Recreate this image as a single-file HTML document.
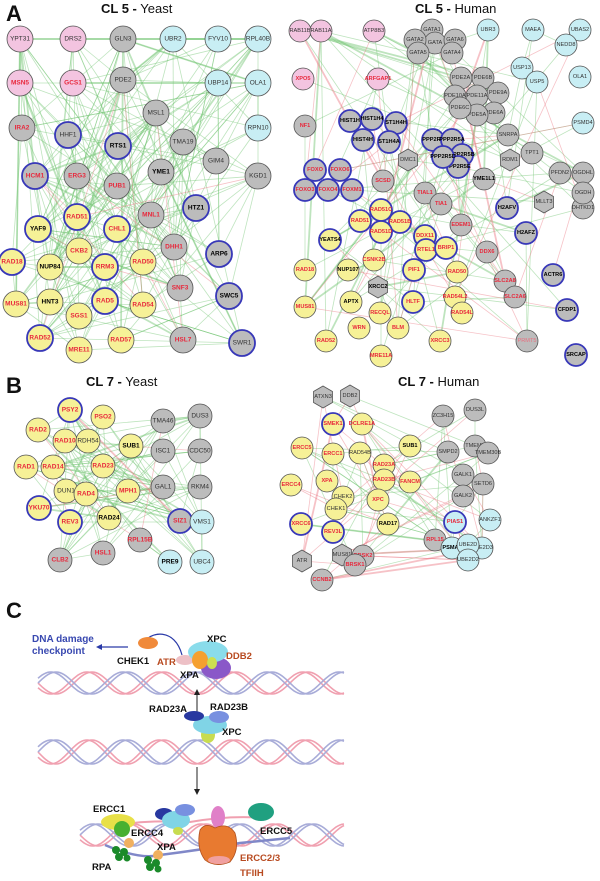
<!DOCTYPE html>
<html><head><meta charset="utf-8">
<style>
html,body{margin:0;padding:0;background:#fff;width:600px;height:881px;overflow:hidden}
svg{display:block;font-family:"Liberation Sans",sans-serif}
.n text{font-size:6.5px;text-anchor:middle;dominant-baseline:central;fill:#333}
.s text{font-size:5.6px}
.n circle,.n polygon{stroke:#555;stroke-width:0.8}
.p circle{fill:#f3c4e0}.g circle,.g polygon{fill:#bcbcbc}.c circle{fill:#c8eef4}.y circle{fill:#f6f197}
.b circle{stroke:#3838b8;stroke-width:1.8}
.r text{fill:#e8283c;font-weight:bold}
.k text{fill:#000;font-weight:bold}
.h1{font-size:13px;fill:#111}
.L{font-size:22px;font-weight:bold;fill:#111}
.lb{font-size:9.5px;font-weight:bold;fill:#111}
.lo{font-size:9.5px;font-weight:bold;fill:#b84a20}
</style></head><body>
<svg id="S" width="600" height="881" viewBox="0 0 600 881">
<text class="L" x="6" y="21">A</text>
<text class="h1" x="101" y="13"><tspan font-weight="bold">CL 5 -</tspan> Yeast</text>
<text class="h1" x="415" y="13"><tspan font-weight="bold">CL 5 -</tspan> Human</text>
<g id="P1" data-r="13">
<g class="n p" transform="translate(20,39)"><text>YPT31</text></g>
<g class="n p" transform="translate(73,39)"><text>DRS2</text></g>
<g class="n g" transform="translate(123,39)"><text>GLN3</text></g>
<g class="n c" transform="translate(173,39)"><text>UBR2</text></g>
<g class="n c" transform="translate(218,39)"><text>FYV10</text></g>
<g class="n c" transform="translate(258,39)"><text>RPL40B</text></g>
<g class="n p r" transform="translate(20,83)"><text>MSN5</text></g>
<g class="n p r" transform="translate(73,83)"><text>GCS1</text></g>
<g class="n g" transform="translate(123,80)"><text>PDE2</text></g>
<g class="n c" transform="translate(218,83)"><text>UBP14</text></g>
<g class="n c" transform="translate(258,83)"><text>OLA1</text></g>
<g class="n g" transform="translate(156,113)"><text>MSL1</text></g>
<g class="n g r" transform="translate(22,128)"><text>IRA2</text></g>
<g class="n g b" transform="translate(68,135)"><text>HHF1</text></g>
<g class="n g b k" transform="translate(118,146)"><text>RTS1</text></g>
<g class="n g" transform="translate(183,142)"><text>TMA19</text></g>
<g class="n c" transform="translate(258,128)"><text>RPN10</text></g>
<g class="n g" transform="translate(216,161)"><text>GIM4</text></g>
<g class="n g" transform="translate(258,176)"><text>KGD1</text></g>
<g class="n g b r" transform="translate(35,176)"><text>HCM1</text></g>
<g class="n g r" transform="translate(77,176)"><text>ERG3</text></g>
<g class="n g r" transform="translate(117,186)"><text>PUB1</text></g>
<g class="n g k" transform="translate(161,172)"><text>YME1</text></g>
<g class="n g r" transform="translate(151,215)"><text>MNL1</text></g>
<g class="n g b k" transform="translate(196,208)"><text>HTZ1</text></g>
<g class="n y b r" transform="translate(77,217)"><text>RAD51</text></g>
<g class="n y b k" transform="translate(38,229)"><text>YAF9</text></g>
<g class="n y b r" transform="translate(117,229)"><text>CHL1</text></g>
<g class="n y r" transform="translate(79,251)"><text>CKB2</text></g>
<g class="n g r" transform="translate(174,247)"><text>DHH1</text></g>
<g class="n g b k" transform="translate(219,254)"><text>ARP6</text></g>
<g class="n y b r" transform="translate(12,262)"><text>RAD18</text></g>
<g class="n y k" transform="translate(50,267)"><text>NUP84</text></g>
<g class="n y b r" transform="translate(105,267)"><text>RRM3</text></g>
<g class="n y r" transform="translate(143,262)"><text>RAD50</text></g>
<g class="n g r" transform="translate(180,288)"><text>SNF3</text></g>
<g class="n g b k" transform="translate(229,296)"><text>SWC5</text></g>
<g class="n y r" transform="translate(16,304)"><text>MUS81</text></g>
<g class="n y k" transform="translate(50,302)"><text>HNT3</text></g>
<g class="n y b r" transform="translate(105,301)"><text>RAD5</text></g>
<g class="n y r" transform="translate(143,305)"><text>RAD54</text></g>
<g class="n y r" transform="translate(79,316)"><text>SGS1</text></g>
<g class="n y b r" transform="translate(40,338)"><text>RAD52</text></g>
<g class="n y r" transform="translate(79,350)"><text>MRE11</text></g>
<g class="n y r" transform="translate(121,340)"><text>RAD57</text></g>
<g class="n g r" transform="translate(183,340)"><text>HSL7</text></g>
<g class="n g b" transform="translate(242,343)"><text>SWR1</text></g>
</g>
<g id="P2" data-r="11">
<g class="n p s" transform="translate(300,31)"><text>RAB11B</text></g>
<g class="n p s" transform="translate(321,31)"><text>RAB11A</text></g>
<g class="n p s" transform="translate(374,31)"><text>ATP8B3</text></g>
<g class="n g s" transform="translate(432,30)"><text>GATA1</text></g>
<g class="n g s" transform="translate(435,43)"><text>GATA</text></g>
<g class="n g s" transform="translate(415,40)"><text>GATA2</text></g>
<g class="n g s" transform="translate(455,40)"><text>GATA6</text></g>
<g class="n g s" transform="translate(418,53)"><text>GATA5</text></g>
<g class="n g s" transform="translate(452,53)"><text>GATA4</text></g>
<g class="n c s" transform="translate(488,30)"><text>UBR3</text></g>
<g class="n c s" transform="translate(533,30)"><text>MAEA</text></g>
<g class="n c s" transform="translate(580,30)"><text>UBAS2</text></g>
<g class="n c s" transform="translate(566,45)"><text>NEDD8</text></g>
<g class="n p s r" transform="translate(303,79)"><text>XPO5</text></g>
<g class="n p s r" transform="translate(378,79)"><text>ARFGAP1</text></g>
<g class="n c s" transform="translate(522,68)"><text>USP13</text></g>
<g class="n c s" transform="translate(537,82)"><text>USP5</text></g>
<g class="n c s" transform="translate(580,77)"><text>OLA1</text></g>
<g class="n g s" transform="translate(461,78)"><text>PDE2A</text></g>
<g class="n g s" transform="translate(483,78)"><text>PDE6B</text></g>
<g class="n g s" transform="translate(498,93)"><text>PDE9A</text></g>
<g class="n g s" transform="translate(455,96)"><text>PDE10A</text></g>
<g class="n g s" transform="translate(477,96)"><text>PDE11A</text></g>
<g class="n g s" transform="translate(494,113)"><text>PDE6A</text></g>
<g class="n g s" transform="translate(477,115)"><text>PDE5A</text></g>
<g class="n g s" transform="translate(460,108)"><text>PDE6C</text></g>
<g class="n g s r" transform="translate(305,126)"><text>NF1</text></g>
<g class="n g s b k" transform="translate(350,121)"><text>HIST1H</text></g>
<g class="n g s b k" transform="translate(372,119)"><text>HIST1H4</text></g>
<g class="n g s b k" transform="translate(396,123)"><text>ST1H4H</text></g>
<g class="n g s b k" transform="translate(363,140)"><text>HIST4H</text></g>
<g class="n g s b k" transform="translate(389,142)"><text>ST1H4A</text></g>
<g class="n c s" transform="translate(583,123)"><text>PSMD4</text></g>
<g class="n g s" transform="translate(508,135)"><text>SNRPA</text></g>
<g class="n g s" transform="translate(532,153)"><text>TPT1</text></g>
<g class="n g s h" transform="translate(408,160)"><text>DMC1</text></g>
<g class="n g s h" transform="translate(510,160)"><text>RDM1</text></g>
<g class="n g s b k" transform="translate(433,140)"><text>PPP2R5</text></g>
<g class="n g s b k" transform="translate(452,140)"><text>PPP2R5A</text></g>
<g class="n g s b k" transform="translate(462,155)"><text>PPP2R5B</text></g>
<g class="n g s b k" transform="translate(458,167)"><text>PPP2R5E</text></g>
<g class="n g s b k" transform="translate(443,157)"><text>PPP2R5D</text></g>
<g class="n g s b r" transform="translate(315,170)"><text>FOXO</text></g>
<g class="n g s b r" transform="translate(340,170)"><text>FOXO6</text></g>
<g class="n g s b r" transform="translate(305,190)"><text>FOXO3</text></g>
<g class="n g s b r" transform="translate(328,190)"><text>FOXO4</text></g>
<g class="n g s b r" transform="translate(352,190)"><text>FOXM1</text></g>
<g class="n g s r" transform="translate(383,181)"><text>SCSD</text></g>
<g class="n g s k" transform="translate(484,179)"><text>YME1L1</text></g>
<g class="n g s" transform="translate(560,173)"><text>PFDN2</text></g>
<g class="n g s" transform="translate(583,173)"><text>OGDHL</text></g>
<g class="n g s" transform="translate(583,208)"><text>DHTKD1</text></g>
<g class="n g s" transform="translate(583,193)"><text>OGDH</text></g>
<g class="n g s h" transform="translate(544,202)"><text>MLLT3</text></g>
<g class="n g s r" transform="translate(425,193)"><text>TIAL1</text></g>
<g class="n g s r" transform="translate(441,204)"><text>TIA1</text></g>
<g class="n g s b k" transform="translate(507,208)"><text>H2AFV</text></g>
<g class="n y s b r" transform="translate(360,221)"><text>RAD51</text></g>
<g class="n y s b r" transform="translate(381,210)"><text>RAD51C</text></g>
<g class="n y s b r" transform="translate(400,222)"><text>RAD51B</text></g>
<g class="n y s b r" transform="translate(381,232)"><text>RAD51D</text></g>
<g class="n g s r" transform="translate(461,225)"><text>EDEM1</text></g>
<g class="n g s b k" transform="translate(526,233)"><text>H2AFZ</text></g>
<g class="n y s b k" transform="translate(330,240)"><text>YEATS4</text></g>
<g class="n y s b r" transform="translate(425,236)"><text>DDX11</text></g>
<g class="n y s b r" transform="translate(426,250)"><text>RTEL1</text></g>
<g class="n y s b r" transform="translate(446,248)"><text>BRIP1</text></g>
<g class="n y s r" transform="translate(374,260)"><text>CSNK2B</text></g>
<g class="n g s r" transform="translate(487,252)"><text>DDX6</text></g>
<g class="n y s r" transform="translate(305,270)"><text>RAD18</text></g>
<g class="n y s k" transform="translate(348,270)"><text>NUP107</text></g>
<g class="n y s b r" transform="translate(414,270)"><text>PIF1</text></g>
<g class="n y s r" transform="translate(457,272)"><text>RAD50</text></g>
<g class="n g s b k" transform="translate(553,275)"><text>ACTR6</text></g>
<g class="n g s h k" transform="translate(378,287)"><text>XRCC2</text></g>
<g class="n g s r" transform="translate(505,281)"><text>SLC2A8</text></g>
<g class="n g s r" transform="translate(515,297)"><text>SLC2A6</text></g>
<g class="n y s r" transform="translate(305,307)"><text>MUS81</text></g>
<g class="n y s k" transform="translate(351,302)"><text>APTX</text></g>
<g class="n y s b r" transform="translate(413,302)"><text>HLTF</text></g>
<g class="n y s r" transform="translate(455,297)"><text>RAD54L2</text></g>
<g class="n y s r" transform="translate(462,313)"><text>RAD54L</text></g>
<g class="n g s b k" transform="translate(567,310)"><text>CFDP1</text></g>
<g class="n y s r" transform="translate(380,313)"><text>RECQL</text></g>
<g class="n y s r" transform="translate(359,328)"><text>WRN</text></g>
<g class="n y s r" transform="translate(398,328)"><text>BLM</text></g>
<g class="n y s r" transform="translate(326,341)"><text>RAD52</text></g>
<g class="n y s r" transform="translate(440,341)"><text>XRCC3</text></g>
<g class="n g s" transform="translate(527,341)"><text style="fill:#e87080">PRMT5</text></g>
<g class="n y s r" transform="translate(381,356)"><text>MRE11A</text></g>
<g class="n g s b k" transform="translate(576,355)"><text>SRCAP</text></g>
</g>
<text class="L" x="6" y="393">B</text>
<text class="h1" x="86" y="386"><tspan font-weight="bold">CL 7 -</tspan> Yeast</text>
<text class="h1" x="398" y="386"><tspan font-weight="bold">CL 7 -</tspan> Human</text>
<g id="P3" data-r="12">
<g class="n y b r" transform="translate(70,410)"><text>PSY2</text></g>
<g class="n y r" transform="translate(103,417)"><text>PSO2</text></g>
<g class="n g" transform="translate(163,421)"><text>TMA46</text></g>
<g class="n g" transform="translate(200,416)"><text>DUS3</text></g>
<g class="n y r" transform="translate(38,430)"><text>RAD2</text></g>
<g class="n y r" transform="translate(65,441)"><text>RAD10</text></g>
<g class="n y" transform="translate(88,441)"><text>RDH54</text></g>
<g class="n y k" transform="translate(131,446)"><text>SUB1</text></g>
<g class="n g" transform="translate(163,451)"><text>ISC1</text></g>
<g class="n g" transform="translate(200,451)"><text>CDC50</text></g>
<g class="n y r" transform="translate(26,467)"><text>RAD1</text></g>
<g class="n y r" transform="translate(53,467)"><text>RAD14</text></g>
<g class="n y r" transform="translate(103,466)"><text>RAD23</text></g>
<g class="n y" transform="translate(66,491)"><text>DUN1</text></g>
<g class="n y r" transform="translate(86,494)"><text>RAD4</text></g>
<g class="n y r" transform="translate(128,491)"><text>MPH1</text></g>
<g class="n g" transform="translate(163,487)"><text>GAL1</text></g>
<g class="n g" transform="translate(200,487)"><text>RKM4</text></g>
<g class="n y b r" transform="translate(39,508)"><text>YKU70</text></g>
<g class="n y b r" transform="translate(70,522)"><text>REV3</text></g>
<g class="n y k" transform="translate(109,518)"><text>RAD24</text></g>
<g class="n g b r" transform="translate(180,521)"><text>SIZ1</text></g>
<g class="n c" transform="translate(202,522)"><text>VMS1</text></g>
<g class="n g r" transform="translate(140,540)"><text>RPL15B</text></g>
<g class="n g r" transform="translate(103,553)"><text>HSL1</text></g>
<g class="n g r" transform="translate(60,560)"><text>CLB2</text></g>
<g class="n c k" transform="translate(170,562)"><text>PRE9</text></g>
<g class="n c" transform="translate(202,562)"><text>UBC4</text></g>
</g>
<g id="P4" data-r="11">
<g class="n g s h" transform="translate(323,397)"><text>ATXN3</text></g>
<g class="n g s h" transform="translate(350,396)"><text>DDB2</text></g>
<g class="n g s" transform="translate(443,416)"><text>ZC3H15</text></g>
<g class="n g s" transform="translate(475,410)"><text>DUS3L</text></g>
<g class="n y s b r" transform="translate(333,424)"><text>SMEK1</text></g>
<g class="n y s r" transform="translate(362,424)"><text>DCLRE1A</text></g>
<g class="n y s r" transform="translate(302,448)"><text>ERCC5</text></g>
<g class="n y s r" transform="translate(333,454)"><text>ERCC1</text></g>
<g class="n y s" transform="translate(360,453)"><text>RAD54B</text></g>
<g class="n y s k" transform="translate(410,446)"><text>SUB1</text></g>
<g class="n g s" transform="translate(448,452)"><text>SMPD2</text></g>
<g class="n g s" transform="translate(475,446)"><text>TMEM7</text></g>
<g class="n g s" transform="translate(488,453)"><text>TMEM30B</text></g>
<g class="n y s r" transform="translate(384,465)"><text>RAD23A</text></g>
<g class="n g s" transform="translate(463,475)"><text>GALK1</text></g>
<g class="n y s r" transform="translate(291,485)"><text>ERCC4</text></g>
<g class="n y s r" transform="translate(327,481)"><text>XPA</text></g>
<g class="n y s r" transform="translate(384,480)"><text>RAD23B</text></g>
<g class="n y s r" transform="translate(410,482)"><text>FANCM</text></g>
<g class="n g s" transform="translate(483,484)"><text>SETD6</text></g>
<g class="n g s" transform="translate(463,496)"><text>GALK2</text></g>
<g class="n y s" transform="translate(343,497)"><text>CHEK2</text></g>
<g class="n y s r" transform="translate(378,500)"><text>XPC</text></g>
<g class="n y s" transform="translate(336,509)"><text>CHEK1</text></g>
<g class="n y s b r" transform="translate(301,524)"><text>XRCC6</text></g>
<g class="n c s b r" transform="translate(455,522)"><text>PIAS1</text></g>
<g class="n c s" transform="translate(490,520)"><text>ANKZF1</text></g>
<g class="n y s k" transform="translate(388,524)"><text>RAD17</text></g>
<g class="n y s b r" transform="translate(333,532)"><text>REV3L</text></g>
<g class="n g s r" transform="translate(435,540)"><text>RPL15</text></g>
<g class="n c s k" transform="translate(452,548)"><text>PSMA4</text></g>
<g class="n c s" transform="translate(482,548)"><text>UBE2D3</text></g>
<g class="n c s" transform="translate(468,545)"><text>UBE2D</text></g>
<g class="n c s" transform="translate(468,560)"><text>UBE2D2</text></g>
<g class="n g s h" transform="translate(302,561)"><text>ATR</text></g>
<g class="n g s h" transform="translate(342,555)"><text>MUS81</text></g>
<g class="n g s r" transform="translate(363,556)"><text>BRSK2</text></g>
<g class="n g s r" transform="translate(355,565)"><text>BRSK1</text></g>
<g class="n g s r" transform="translate(322,580)"><text>CCNB2</text></g>
</g>
<text class="L" x="6" y="618">C</text>
<g id="HX"></g>
<path d="M182,655 C175,628 150,630 142,645" fill="none" stroke="#2a3aa8" stroke-width="1.2"/>
<path d="M145,643 l3,-5 l2,5z" fill="#2a3aa8"/>
<line x1="128" y1="647" x2="100" y2="647" stroke="#2a3aa8" stroke-width="1.2"/>
<path d="M96,647 l6,-3 v6z" fill="#2a3aa8"/>
<ellipse cx="148" cy="643" rx="10" ry="6" fill="#f08a3a"/>
<ellipse cx="185" cy="660" rx="9" ry="5" fill="#e8b0b8" opacity="0.8"/>
<ellipse cx="216" cy="668" rx="15" ry="11" fill="#8a58c8"/>
<ellipse cx="208" cy="652" rx="20" ry="11" fill="#8adceb"/>
<ellipse cx="200" cy="660" rx="8" ry="9" fill="#f5a030"/>
<ellipse cx="212" cy="663" rx="5" ry="6" fill="#cde050"/>
<line x1="197" y1="716" x2="197" y2="694" stroke="#222" stroke-width="1"/>
<path d="M197,689 l-3,6 h6z" fill="#222"/>
<ellipse cx="208" cy="735" rx="7" ry="8" fill="#c8dc50"/>
<ellipse cx="210" cy="725" rx="17" ry="9" fill="#80d4e6"/>
<ellipse cx="194" cy="716" rx="10" ry="5" fill="#2838a0"/>
<ellipse cx="219" cy="717" rx="10" ry="6" fill="#7890e0"/>
<line x1="197" y1="767" x2="197" y2="790" stroke="#222" stroke-width="1"/>
<path d="M197,795 l-3,-6 h6z" fill="#222"/>
<path d="M120,825 Q145,820 190,822 Q230,815 265,818" fill="none" stroke="#f0a0b0" stroke-width="2"/>
<path d="M105,845 Q140,860 160,855 Q200,850 240,843 Q270,840 290,838" fill="none" stroke="#8088c8" stroke-width="2.5"/>
<ellipse cx="118" cy="822" rx="17" ry="8" fill="#e8e048"/>
<circle cx="122" cy="829" r="8" fill="#48b030"/>
<ellipse cx="164" cy="814" rx="9" ry="6" fill="#2838a0"/>
<ellipse cx="176" cy="820" rx="14" ry="9" fill="#80d4e6"/>
<ellipse cx="185" cy="810" rx="10" ry="6" fill="#7890e0"/>
<ellipse cx="178" cy="831" rx="5" ry="4" fill="#c8dc50"/>
<ellipse cx="261" cy="812" rx="13" ry="9" fill="#20a080"/>
<ellipse cx="218" cy="817" rx="7" ry="11" fill="#e080c8"/>
<path d="M200,830 Q205,822 215,828 Q228,822 235,833 Q240,850 230,862 Q215,868 205,860 Q196,848 200,830z" fill="#e87a30" stroke="#b05020" stroke-width="0.8"/>
<ellipse cx="219" cy="860" rx="11" ry="4" fill="#f0a0a0"/>
<circle cx="129" cy="843" r="5" fill="#f0b060"/>
<circle cx="158" cy="855" r="5" fill="#f0b060"/>
<g fill="#1a8a2a"><circle cx="116" cy="850" r="4"/><circle cx="124" cy="852" r="4"/><circle cx="119" cy="857" r="4"/><circle cx="127" cy="858" r="3.5"/><circle cx="148" cy="860" r="4"/><circle cx="156" cy="863" r="4"/><circle cx="150" cy="867" r="4"/><circle cx="158" cy="869" r="3.5"/></g>
<text x="32" y="642" style="font-size:10px;font-weight:bold;fill:#3848b0">DNA damage</text>
<text x="32" y="654" style="font-size:10px;font-weight:bold;fill:#3848b0">checkpoint</text>
<text class="lb" x="117" y="664">CHEK1</text>
<text class="lo" x="157" y="665">ATR</text>
<text class="lb" x="207" y="642">XPC</text>
<text class="lo" x="226" y="659">DDB2</text>
<text class="lb" x="180" y="678">XPA</text>
<text class="lb" x="149" y="712">RAD23A</text>
<text class="lb" x="210" y="710">RAD23B</text>
<text class="lb" x="222" y="735">XPC</text>
<text class="lb" x="93" y="812">ERCC1</text>
<text class="lb" x="131" y="836">ERCC4</text>
<text class="lb" x="260" y="834">ERCC5</text>
<text class="lb" x="157" y="850">XPA</text>
<text class="lb" x="92" y="870">RPA</text>
<text class="lo" x="240" y="861">ERCC2/3</text>
<text class="lo" x="240" y="876">TFIIH</text>
</svg>
<script>
(function(){
var NS="http://www.w3.org/2000/svg";var seed=7;function R(){seed=(seed*16807)%2147483647;return (seed-1)/2147483646;}
function mk(t,a){var e=document.createElementNS(NS,t);for(var k in a)e.setAttribute(k,a[k]);return e;}
var cfg={P1:[240,10],P2:[100,35],P3:[100,8],P4:[55,40]};
for(var id in cfg){var P=document.getElementById(id),r=+P.getAttribute("data-r");
var nodes=[].slice.call(P.querySelectorAll(".n")),pts=[];
nodes.forEach(function(g){var m=/translate\(([\d.]+),([\d.]+)\)/.exec(g.getAttribute("transform"));var x=+m[1],y=+m[2];pts.push([x,y]);
var sh;if(g.classList.contains("h")){var p=[];for(var i=0;i<6;i++){var a=Math.PI/6+i*Math.PI/3;p.push((r*Math.cos(a)).toFixed(1)+","+(r*Math.sin(a)).toFixed(1));}sh=mk("polygon",{points:p.join(" ")});}else sh=mk("circle",{r:r});
g.insertBefore(sh,g.firstChild);});
var E=mk("g",{});var n=pts.length;
for(var k=0;k<cfg[id][0]+cfg[id][1];k++){var a=pts[Math.floor(R()*n)],b=pts[Math.floor(R()*n)];if(a===b)continue;
var red=k>=cfg[id][0];E.appendChild(mk("line",{x1:a[0],y1:a[1],x2:b[0],y2:b[1],stroke:red?"rgba(235,120,130,0.45)":"rgba(110,195,110,0.45)","stroke-width":(R()<0.12?1.8:0.8)}));}
P.insertBefore(E,P.firstChild);}
var HX=document.getElementById("HX");
function helix(x0,x1,yc,amp,per){var cols=[["#f0a0b0",0],["#f0a0b0",0.45],["#a8acd8",Math.PI],["#a8acd8",Math.PI+0.45]];
cols.forEach(function(c){var d="";for(var x=x0;x<=x1;x+=2){var y=yc+amp*Math.sin((x-x0)/per*2*Math.PI+c[1]);d+=(x==x0?"M":"L")+x+","+y.toFixed(1);}
HX.appendChild(mk("path",{d:d,fill:"none",stroke:c[0],"stroke-width":1.6}));});}
helix(38,345,683,11,72);helix(38,345,752,12,72);helix(80,345,835,11,72);
})();
</script>
</body></html>
